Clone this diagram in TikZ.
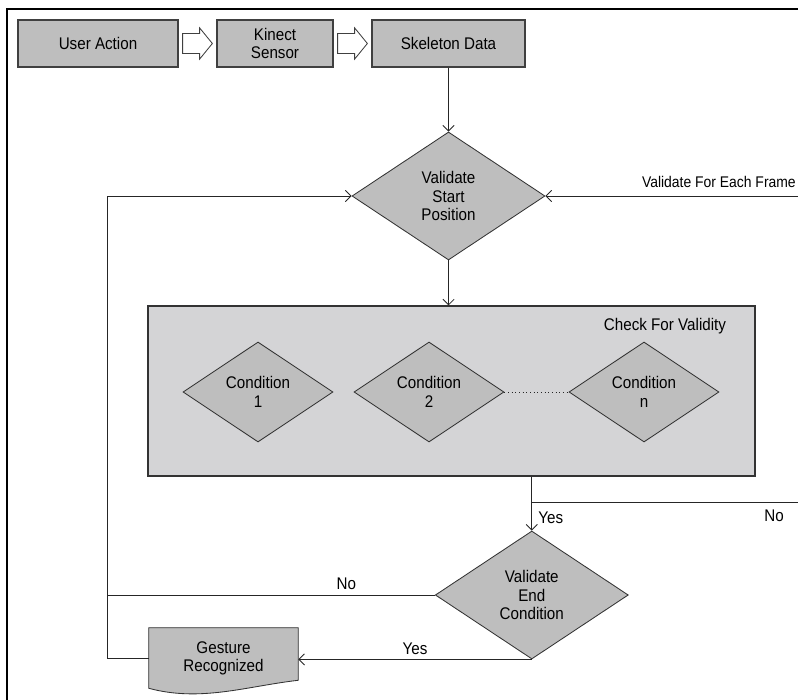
\documentclass[tikz,border=0pt]{standalone}
\usepackage{fontspec}
\setmainfont{Liberation Sans}[FakeStretch=0.9]
\usetikzlibrary{shapes.geometric,arrows.meta,calc,backgrounds}
\definecolor{boxgray}{RGB}{190,190,190}
\definecolor{panelgray}{RGB}{212,212,214}
\definecolor{edgegray}{RGB}{64,64,64}
\begin{document}
\begin{tikzpicture}[
  font=\fontsize{12}{13}\selectfont,
  box/.style={draw=edgegray, line width=0.9pt, fill=boxgray, minimum height=1.175cm, align=center},
  decision/.style={diamond, draw=black!80, line width=0.6pt, fill=boxgray, minimum width=4.825cm, minimum height=3.2cm, inner sep=0pt, align=center},
  cond/.style={diamond, draw=black!80, line width=0.6pt, fill=boxgray, minimum width=3.75cm, minimum height=2.5cm, inner sep=0pt, align=center},
  panel/.style={draw=black!80, line width=0.8pt, fill=panelgray, minimum width=15.175cm, minimum height=4.25cm},
  doc/.style={draw=black!80, line width=0.6pt, fill=boxgray},
  fat/.style={draw=edgegray, line width=0.6pt, fill=white},
  line/.style={draw=black!85, line width=0.6pt},
  arr/.style={line, -{Straight Barb[length=4pt,width=8pt]}}
]
\useasboundingbox (0,0) rectangle (19.95,-17.5);
\draw[line width=1pt] (19.95,-0.225) -| (0.175,-17.5);

\node[box, minimum width=4cm] (ua) at (2.45,-1.0875) {User Action};
\node[box, minimum width=2.9cm] (ks) at (6.875,-1.0875) {Kinect\\Sensor};
\node[box, minimum width=3.825cm] (sd) at (11.2125,-1.0875) {Skeleton Data};

\foreach \a/\b in {ua/ks,ks/sd}
  \draw[fat] ($(\a.east)+(0.1,0.25)$) -- ++(0.425,0) -- ++(0,0.14) -- ($(\b.west)+(-0.1,0)$)
    -- ($(\a.east)+(0.525,-0.39)$) -- ++(0,0.14) -- ($(\a.east)+(0.1,-0.25)$) -- cycle;

\node[decision] (vs) at (11.2125,-4.9) {Validate\\Start\\Position};

\node[panel] (panel) at (11.2875,-9.775) {};
\node (cfv) at (16.625,-8.15) {Check For Validity};
\node[cond] (c1) at (6.45,-9.8) {Condition\\1};
\node[cond] (c2) at (10.725,-9.8) {Condition\\2};
\node[cond] (cn) at (16.1,-9.8) {Condition\\n};
\draw[line, dotted] (c2.east) -- (cn.west);

\node[decision] (ve) at (13.295,-14.875) {Validate\\End\\Condition};

\node[minimum width=3.725cm, minimum height=1.5cm, align=center] (gr) at (5.5875,-16.45) {Gesture\\Recognized};
\begin{scope}[on background layer]
\draw[doc] (gr.north west) -- (gr.north east) -- ($(gr.south east)+(0,0.2)$)
  .. controls ($(gr.south east)+(-1.3,0.05)$) and ($(gr.south west)+(1.3,-0.35)$) .. (gr.south west) -- cycle;
\end{scope}

\coordinate (frameR) at (19.95,-4.9);
\coordinate (loop) at (2.675,0);
\coordinate (split) at ($(panel.south -| ve.north)+(0,-0.64)$);

\draw[arr] (sd.south) -- (vs.north);
\draw[arr] (vs.south) -- (vs.south |- panel.north);
\draw[arr] (frameR) -- (vs.east);
\node[anchor=base east, inner sep=0pt, font=\fontsize{11}{13}\selectfont] (vfe) at (19.9,-4.68) {Validate For Each Frame};
\draw[arr] (panel.south -| ve.north) -- (ve.north) node[pos=0.76, right, xshift=1pt] {Yes};
\draw[line] (split) -- (split -| frameR) node[pos=0.91, below=2pt] {No};
\draw[line] (ve.west) -- (ve.west -| loop) node[pos=0.27, above] {No};
\draw[arr] (gr.west) -- (gr.west -| loop) |- (vs.west);
\draw[arr] (ve.south) -- (ve.south -| gr.east) node[midway, above] {Yes};
\end{tikzpicture}
\end{document}
